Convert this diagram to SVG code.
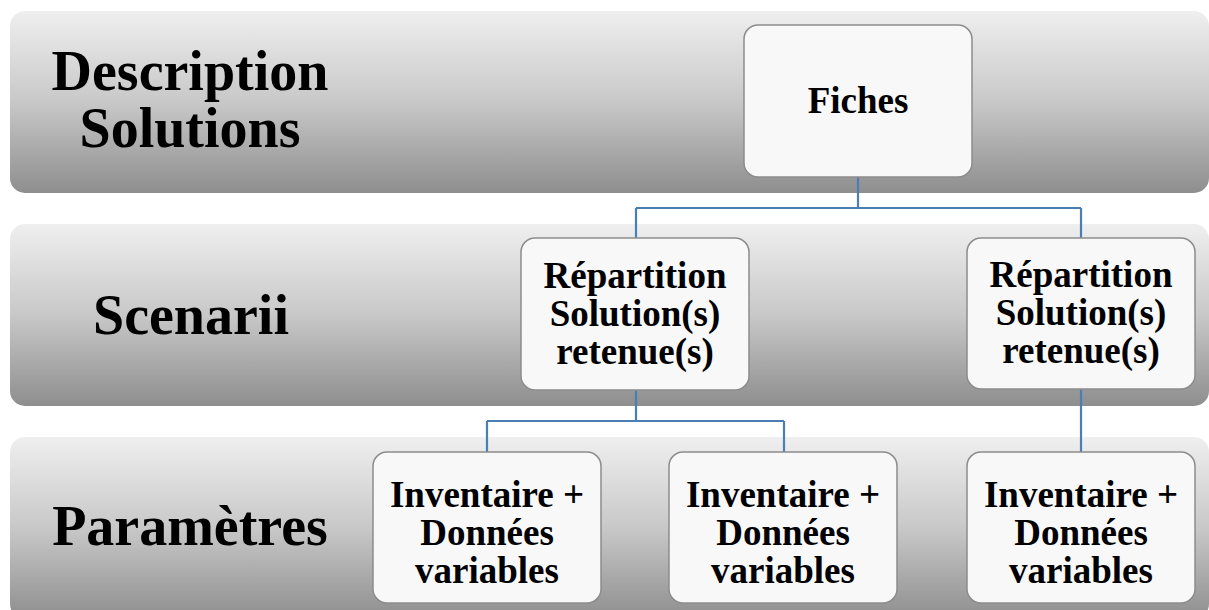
<svg xmlns="http://www.w3.org/2000/svg" width="1209" height="610" viewBox="0 0 1209 610">
<defs>
<linearGradient id="band" x1="0" y1="0" x2="0" y2="1">
<stop offset="0" stop-color="#efefef"/>
<stop offset="0.5" stop-color="#c8c8c8"/>
<stop offset="1" stop-color="#8e8e8e"/>
</linearGradient>
<linearGradient id="band3" x1="0" y1="437" x2="0" y2="619" gradientUnits="userSpaceOnUse">
<stop offset="0" stop-color="#efefef"/>
<stop offset="0.5" stop-color="#c8c8c8"/>
<stop offset="1" stop-color="#8e8e8e"/>
</linearGradient>
</defs>
<style>
.band{fill:url(#band);}
.box{fill:#f8f8f8;stroke:#8c8c8c;stroke-width:1.5;}
.lbl{font-family:"Liberation Serif","Times New Roman",serif;font-weight:bold;font-size:56px;fill:#000;text-anchor:middle;}
.txt{font-family:"Liberation Serif","Times New Roman",serif;font-weight:bold;font-size:37px;fill:#000;text-anchor:middle;}
.conn{fill:none;stroke:#4a7fb5;stroke-width:2.2;}
</style>
<rect width="1209" height="610" fill="#ffffff"/>
<g id="band-description">
<rect class="band" x="10" y="11" width="1199" height="182" rx="15"/>
<text class="lbl" x="190" y="90">Description</text>
<text class="lbl" x="190" y="147">Solutions</text>
</g>
<g id="band-scenarii">
<rect class="band" x="10" y="224" width="1199" height="182" rx="15"/>
<text class="lbl" x="191" y="334">Scenarii</text>
</g>
<g id="band-parametres">
<rect x="10" y="437" width="1199" height="182" rx="15" fill="url(#band3)"/>
<text class="lbl" x="190" y="545">Paramètres</text>
</g>
<g id="connectors">
<path class="conn" d="M858 177 V208 M636 208 H1081 M636 208 V238 M1081 208 V238"/>
<path class="conn" d="M636 390 V421 M487 421 H784 M487 421 V452 M784 421 V452"/>
<path class="conn" d="M1081 389 V452"/>
</g>
<g id="fiches">
<rect class="box" x="744" y="25" width="228" height="152" rx="14"/>
<text class="txt" x="858" y="113">Fiches</text>
</g>
<g id="repartition-1">
<rect class="box" x="521" y="238" width="228" height="152" rx="14"/>
<text class="txt" x="635" y="288">Répartition</text>
<text class="txt" x="635" y="326">Solution(s)</text>
<text class="txt" x="635" y="364">retenue(s)</text>
</g>
<g id="repartition-2">
<rect class="box" x="967" y="238" width="228" height="151" rx="14"/>
<text class="txt" x="1081" y="287">Répartition</text>
<text class="txt" x="1081" y="325">Solution(s)</text>
<text class="txt" x="1081" y="363">retenue(s)</text>
</g>
<g id="inventaire-1">
<rect class="box" x="373" y="452" width="228" height="151" rx="14"/>
<text class="txt" x="487" y="507">Inventaire +</text>
<text class="txt" x="487" y="545">Données</text>
<text class="txt" x="487" y="583">variables</text>
</g>
<g id="inventaire-2">
<rect class="box" x="669" y="452" width="228" height="151" rx="14"/>
<text class="txt" x="783" y="507">Inventaire +</text>
<text class="txt" x="783" y="545">Données</text>
<text class="txt" x="783" y="583">variables</text>
</g>
<g id="inventaire-3">
<rect class="box" x="967" y="452" width="228" height="151" rx="14"/>
<text class="txt" x="1081" y="507">Inventaire +</text>
<text class="txt" x="1081" y="545">Données</text>
<text class="txt" x="1081" y="583">variables</text>
</g>
</svg>
